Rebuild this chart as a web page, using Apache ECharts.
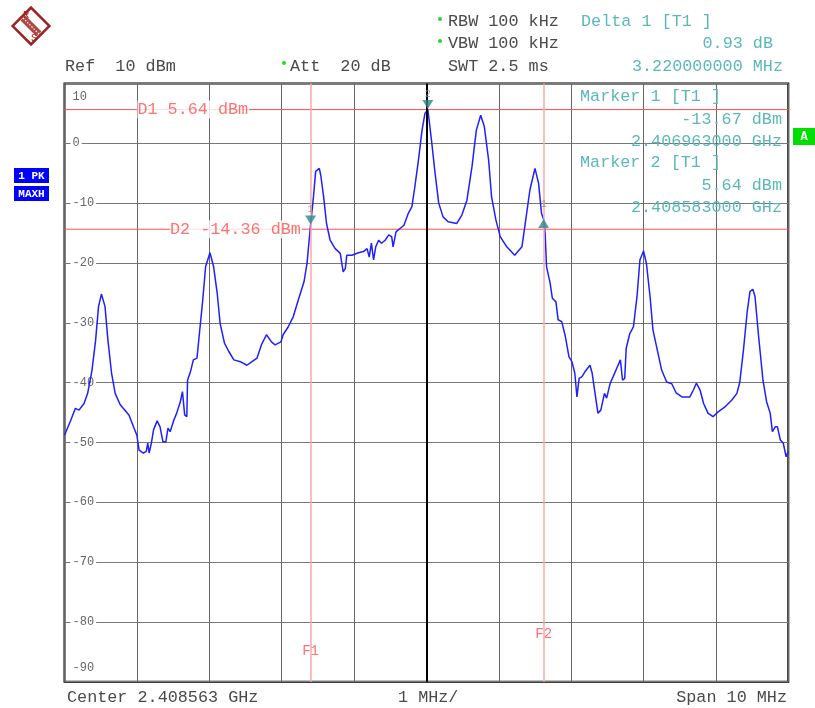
<!DOCTYPE html>
<html>
<head>
<meta charset="utf-8">
<script src="https://cdn.jsdelivr.net/npm/echarts@6/dist/echarts.min.js"></script>
<style>
html,body{margin:0;padding:0;background:#fff;}
#c{width:815px;height:708px;}
</style>
</head>
<body>
<div id="c"></div>
<script>
// ---- data (frequency offset from center in MHz, level in dBm) ----
const traceFreq = [-5.00,-4.92,-4.85,-4.80,-4.73,-4.68,-4.62,-4.57,-4.53,-4.49,-4.44,-4.40,-4.35,-4.30,-4.23,-4.11,-4.04,-4.00,-3.97,-3.91,-3.87,-3.85,-3.83,-3.80,-3.77,-3.72,-3.68,-3.64,-3.60,-3.57,-3.54,-3.49,-3.45,-3.40,-3.37,-3.34,-3.31,-3.30,-3.26,-3.22,-3.17,-3.14,-3.09,-3.05,-2.99,-2.94,-2.89,-2.85,-2.79,-2.73,-2.66,-2.57,-2.48,-2.41,-2.34,-2.28,-2.21,-2.14,-2.09,-2.01,-1.98,-1.91,-1.84,-1.77,-1.69,-1.65,-1.62,-1.60,-1.56,-1.53,-1.48,-1.46,-1.42,-1.38,-1.33,-1.26,-1.19,-1.17,-1.15,-1.12,-1.10,-1.03,-0.94,-0.87,-0.82,-0.79,-0.76,-0.73,-0.70,-0.66,-0.62,-0.57,-0.52,-0.48,-0.46,-0.42,-0.36,-0.31,-0.25,-0.20,-0.16,-0.11,-0.06,-0.02,0.02,0.07,0.12,0.17,0.23,0.30,0.42,0.49,0.56,0.63,0.69,0.75,0.80,0.86,0.90,0.96,1.02,1.11,1.22,1.32,1.36,1.43,1.50,1.55,1.59,1.62,1.64,1.66,1.71,1.74,1.79,1.82,1.87,1.92,1.97,2.01,2.05,2.08,2.11,2.15,2.19,2.26,2.29,2.33,2.37,2.41,2.46,2.49,2.54,2.58,2.63,2.68,2.71,2.74,2.76,2.81,2.86,2.91,2.95,3.00,3.04,3.09,3.13,3.18,3.25,3.32,3.39,3.45,3.53,3.64,3.69,3.73,3.78,3.83,3.89,3.96,4.03,4.13,4.22,4.29,4.33,4.38,4.43,4.47,4.51,4.54,4.59,4.65,4.70,4.75,4.78,4.82,4.85,4.89,4.93,4.97,5.00];
const traceLevel = [-48.8,-46.5,-44.3,-44.6,-43.5,-41.8,-37.9,-32.9,-27.3,-25.2,-27.3,-32.9,-38.4,-41.8,-43.7,-45.4,-47.6,-48.8,-51.3,-51.8,-51.5,-50.1,-51.8,-50.1,-47.9,-46.4,-47.4,-49.9,-49.9,-47.6,-48.2,-46.3,-45.1,-43.2,-41.5,-45.4,-45.7,-39.6,-38.2,-36.2,-35.9,-32.3,-26.2,-20.6,-18.3,-20.6,-25.1,-30.1,-33.4,-34.8,-36.2,-36.5,-37.1,-36.5,-35.9,-33.7,-32.0,-33.2,-33.7,-33.2,-32.0,-30.7,-29.0,-26.2,-23.1,-20.1,-16.2,-13.67,-8.9,-4.7,-4.2,-5.3,-8.9,-13.4,-16.2,-17.6,-18.4,-18.7,-21.5,-20.9,-18.7,-18.7,-18.3,-18.1,-17.6,-19.0,-16.7,-19.5,-17.3,-16.2,-16.7,-16.2,-15.3,-15.6,-17.3,-14.8,-14.2,-13.7,-11.7,-10.6,-7.3,-2.8,2.2,5.0,5.64,0.55,-5.0,-10.0,-12.3,-13.1,-13.4,-12.0,-9.5,-3.9,2.2,4.7,2.8,-2.8,-8.9,-12.8,-15.6,-17.3,-18.7,-17.3,-13.9,-7.8,-4.2,-6.7,-11.7,-12.74,-15.0,-20.6,-23.4,-25.9,-26.5,-29.5,-29.8,-32.3,-35.7,-36.5,-38.4,-42.4,-39.3,-39.0,-38.2,-37.1,-38.4,-41.8,-45.1,-44.6,-41.8,-42.6,-40.1,-39.0,-37.6,-36.2,-39.6,-39.3,-34.3,-31.8,-30.7,-25.6,-19.5,-18.0,-20.1,-25.6,-31.2,-34.0,-37.9,-39.9,-40.2,-41.7,-42.4,-42.4,-41.2,-40.1,-41.2,-43.5,-45.1,-45.7,-44.9,-44.0,-42.9,-41.8,-39.9,-34.6,-28.4,-24.8,-24.4,-25.6,-32.3,-39.6,-43.2,-45.1,-48.2,-47.4,-47.4,-49.6,-50.1,-52.4,-51.5];

const markerFreq  = [-1.60, 0.02];      // Marker 1, Marker 2
const markerLevel = [-13.67, 5.64];
const markerNames = ['1', '2'];
const deltaFreq   = [1.62];             // Delta 1
const deltaLevel  = [-12.74];
const deltaNames  = ['1'];

const dispLineLevel = [5.64, -14.36];
const dispLineText  = ['D1 5.64 dBm', 'D2 -14.36 dBm'];
const dispLineLabelFreq = [-4.00, -3.55];

const freqLineFreq  = [-1.60, 1.62];
const freqLineText  = ['F1', 'F2'];
const freqLineLabelLevel = [-85, -82];

const yMin = -90, yMax = 10, yStep = 10;
const xMin = -5, xMax = 5, xStep = 1;

const infoLines = [
  ['Marker 1 [T1 ]', 'left'], ['-13.67 dBm', 'right'], ['2.406963000 GHz', 'right'],
  ['Marker 2 [T1 ]', 'left'], ['5.64 dBm', 'right'], ['2.408583000 GHz', 'right']
];

// ---- chart ----
const MONO = '"Liberation Mono","DejaVu Sans Mono",monospace';
const FS = 16.8;
const TXT = '#4a4a4a';
const CYAN = '#5cb8b8';
const RED = '#ff4f4f';
const chart = echarts.init(document.getElementById('c'), null, {renderer: 'canvas'});

const traceData = traceFreq.map((f, i) => [f, traceLevel[i]]);

function t(x, y, text, opt) {
  return Object.assign({type: 'text', x: x, y: y, z: 100,
    style: Object.assign({text: text, font: FS + 'px ' + MONO, fill: TXT, verticalAlign: 'middle', align: 'left'}, opt || {})});
}

const infoY = [97, 120, 142, 163, 186, 208];
const logoStripes = [];
for (let k = -3; k <= 3; k++) {
  logoStripes.push({type: 'line', shape: {x1: k * 1.6 - 4, y1: k * 1.6 - 4 - 4, x2: k * 1.6 + 4, y2: k * 1.6 + 4 - 4},
    style: {stroke: '#a83030', lineWidth: 1}});
}
const graphics = [
  // R&S logo
  {type: 'group', x: 31, y: 26, z: 100, children: [
    {type: 'rect', shape: {x: -13, y: -13, width: 26, height: 26}, rotation: Math.PI / 4,
      style: {fill: '#fff', stroke: '#9e2323', lineWidth: 2.5}},
    {type: 'line', shape: {x1: -8, y1: -8, x2: 8, y2: 8}, style: {stroke: '#b04848', lineWidth: 7}},
    {type: 'line', shape: {x1: -8, y1: -8, x2: 8, y2: 8}, style: {stroke: '#fff', lineWidth: 1.2, lineDash: [1.5, 1.5]}},
    {type: 'text', x: -5, y: -11, style: {text: 'R', font: '10px ' + MONO, fill: '#9e2323', align: 'center', verticalAlign: 'middle'}},
    {type: 'text', x: 3, y: 12, style: {text: 'S', font: '10px ' + MONO, fill: '#9e2323', align: 'center', verticalAlign: 'middle'}}
  ]},
  t(65, 67, 'Ref  10 dBm'),
  {type: 'circle', shape: {cx: 284, cy: 63, r: 2}, style: {fill: '#22dd22'}, z: 100},
  t(290, 67, 'Att  20 dB'),
  {type: 'circle', shape: {cx: 440, cy: 19, r: 2}, style: {fill: '#22dd22'}, z: 100},
  t(448, 22, 'RBW 100 kHz'),
  {type: 'circle', shape: {cx: 440, cy: 41, r: 2}, style: {fill: '#22dd22'}, z: 100},
  t(448, 44, 'VBW 100 kHz'),
  t(448, 67, 'SWT 2.5 ms'),
  t(581, 22, 'Delta 1 [T1 ]', {fill: CYAN}),
  t(773, 44, '0.93 dB', {fill: CYAN, align: 'right'}),
  t(783, 67, '3.220000000 MHz', {fill: CYAN, align: 'right'}),
  // left status boxes
  {type: 'rect', shape: {x: 14, y: 168, width: 35, height: 15}, style: {fill: '#0000ff'}, z: 100},
  t(31.5, 176, '1 PK', {fill: '#fff', align: 'center', font: 'bold 11px ' + MONO}),
  {type: 'rect', shape: {x: 14, y: 186, width: 35, height: 15}, style: {fill: '#0000ff'}, z: 100},
  t(31.5, 194, 'MAXH', {fill: '#fff', align: 'center', font: 'bold 11px ' + MONO}),
  // green A box
  {type: 'rect', shape: {x: 793, y: 128, width: 22, height: 17}, style: {fill: '#00e000'}, z: 100},
  t(804, 137, 'A', {fill: '#fff', align: 'center', font: 'bold 12px ' + MONO}),
  // bottom
  t(67, 698, 'Center 2.408563 GHz'),
  t(398, 698, '1 MHz/'),
  t(787, 698, 'Span 10 MHz', {align: 'right'})
];
infoLines.forEach((l, i) => {
  graphics.push(t(l[1] === 'left' ? 580 : 782, infoY[i], l[0], {fill: CYAN, align: l[1]}));
});

const series = [
  { // center + frequency lines
    type: 'line', data: [], z: 1, silent: true,
    markLine: {
      silent: true, symbol: 'none', animation: false,
      label: {show: false},
      data: [
        {xAxis: 0, lineStyle: {color: '#000', width: 2, type: 'solid'}},
        ...freqLineFreq.map(v => ({xAxis: v, lineStyle: {color: '#ffa6a6', width: 1.5, type: 'solid'}}))
      ]
    }
  }
];
// display lines D1, D2 spanning the full span
dispLineLevel.forEach(v => {
  series.push({type: 'line', z: 2, silent: true, showSymbol: false,
    data: [[xMin, v], [xMax, v]], lineStyle: {color: RED, width: 1}});
});
series.push(
  { // trace
    type: 'line', data: traceData, z: 3, showSymbol: false, smooth: false,
    lineStyle: {color: '#1f1fff', width: 1.5}
  },
  { // display line labels
    type: 'scatter', z: 4, symbolSize: 1, itemStyle: {color: 'rgba(0,0,0,0)'},
    data: dispLineLevel.map((v, i) => ({value: [dispLineLabelFreq[i], v], name: dispLineText[i]})),
    label: {show: true, position: 'right', distance: 0, formatter: p => p.name,
      fontFamily: MONO, fontSize: FS, color: RED, backgroundColor: '#fff', padding: [1, 1, 0, 0]}
  },
  { // frequency line labels
    type: 'scatter', z: 4, symbolSize: 1, itemStyle: {color: 'rgba(0,0,0,0)'},
    data: freqLineFreq.map((v, i) => ({value: [v, freqLineLabelLevel[i]], name: freqLineText[i]})),
    label: {show: true, position: 'inside', formatter: p => p.name,
      fontFamily: MONO, fontSize: 14, color: RED, backgroundColor: '#fff', padding: [1, 1, 1, 1]}
  },
  { // markers (down triangles)
    type: 'scatter', z: 5, symbol: 'triangle', symbolRotate: 180, symbolSize: [11, 9], symbolOffset: [0, -5],
    itemStyle: {color: '#2a8a8a'},
    data: markerFreq.map((f, i) => ({value: [f, markerLevel[i]], name: markerNames[i]})),
    label: {show: true, position: 'top', distance: 1, formatter: p => p.name,
      fontFamily: MONO, fontSize: 10, color: '#888'}
  },
  { // delta marker (up triangle)
    type: 'scatter', z: 5, symbol: 'triangle', symbolSize: [11, 9], symbolOffset: [0, 4],
    itemStyle: {color: '#2a8a8a'},
    data: deltaFreq.map((f, i) => ({value: [f, deltaLevel[i]], name: deltaNames[i]})),
    label: {show: true, position: 'top', distance: 10, formatter: p => p.name,
      fontFamily: MONO, fontSize: 10, color: '#888'}
  }
);

const option = {
  animation: false,
  backgroundColor: '#fff',
  grid: {left: 64.5, right: 26.7, top: 83.5, bottom: 26.3, show: true, borderColor: '#000', borderWidth: 2, backgroundColor: 'transparent'},
  xAxis: {
    type: 'value', min: xMin, max: xMax, interval: xStep,
    axisLine: {show: false}, axisTick: {show: false}, axisLabel: {show: false},
    splitLine: {show: true, lineStyle: {color: '#666', width: 1}}
  },
  yAxis: {
    type: 'value', min: yMin, max: yMax, interval: yStep,
    axisLine: {show: false}, axisTick: {show: false},
    splitLine: {show: true, lineStyle: {color: '#777', width: 1}},
    axisLabel: {
      inside: true, margin: 6, showMinLabel: true, showMaxLabel: true,
      formatter: function (v) {
        if (v === yMax) return '{t|' + v + '}';
        if (v === yMin) return '{b|' + v + '}';
        return '{n|' + v + '}';
      },
      rich: {
        t: {fontFamily: MONO, fontSize: 12, color: '#666', padding: [27, 0, 0, 2]},
        b: {fontFamily: MONO, fontSize: 12, color: '#666', padding: [0, 0, 27, 2]},
        n: {fontFamily: MONO, fontSize: 12, color: '#666', backgroundColor: '#fff', padding: [1, 2, 1, 2]}
      }
    }
  },
  graphic: graphics,
  series: series
};
chart.setOption(option);
</script>
</body>
</html>
